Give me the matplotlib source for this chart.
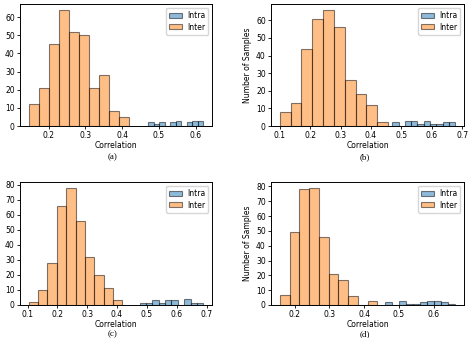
import matplotlib
matplotlib.use("Agg")
import matplotlib.pyplot as plt
from matplotlib.ticker import MultipleLocator
import numpy as np

# bin ranges (start, stop) and counts, 10 bins each
inter_a_range = (0.146, 0.419)
inter_a = [12, 21, 45, 64, 52, 50, 21, 28, 8, 5]
intra_a_range = (0.471, 0.621)
intra_a = [2, 1, 2, 0, 2, 3, 0, 2, 3, 3]

inter_b_range = (0.100, 0.456)
inter_b = [8, 13, 44, 61, 66, 56, 26, 18, 12, 2]
intra_b_range = (0.470, 0.677)
intra_b = [2, 0, 3, 3, 1, 3, 1, 1, 2, 2]

inter_c_range = (0.104, 0.418)
inter_c = [2, 10, 28, 66, 78, 56, 32, 20, 11, 3]
intra_c_range = (0.476, 0.689)
intra_c = [1, 1, 3, 1, 3, 3, 0, 4, 1, 1]

inter_d_range = (0.157, 0.438)
inter_d = [7, 49, 78, 79, 46, 21, 17, 6, 0, 3]
intra_d_range = (0.459, 0.662)
intra_d = [2, 0, 3, 1, 1, 2, 3, 3, 2, 1]

captions = ["(a)", "(b)", "(c)", "(d)"]
panels = [
    (inter_a_range, inter_a, intra_a_range, intra_a),
    (inter_b_range, inter_b, intra_b_range, intra_b),
    (inter_c_range, inter_c, intra_c_range, intra_c),
    (inter_d_range, inter_d, intra_d_range, intra_d),
]

W, H = 470, 338
fig = plt.figure(figsize=(W / 100, H / 100), dpi=100)

# axes boxes in pixels: left, top, right, bottom
boxes = [(20, 4, 212, 126), (271, 4, 464, 126),
         (20, 182, 212, 305), (271, 182, 464, 305)]
cap_pos = [(113, 157), (365, 157), (113, 334), (365, 334)]


def draw_hist(ax, rng, counts, color, label):
    edges = np.linspace(rng[0], rng[1], len(counts) + 1)
    centers = (edges[:-1] + edges[1:]) / 2
    ax.hist(centers, bins=edges, weights=counts, color=color, alpha=0.5,
            edgecolor="black", linewidth=0.8, label=label)


fs = 5.5
for i, (inter_r, inter, intra_r, intra) in enumerate(panels):
    l, t, r, b = boxes[i]
    ax = fig.add_axes([l / W, 1 - b / H, (r - l) / W, (b - t) / H])
    draw_hist(ax, intra_r, intra, "tab:blue", "Intra")
    draw_hist(ax, inter_r, inter, "tab:orange", "Inter")
    ax.yaxis.set_major_locator(MultipleLocator(10))
    ax.set_xlabel("Correlation", fontsize=fs, labelpad=0.8)
    # left-hand panels have this label clipped by the figure edge, as in the source
    ax.set_ylabel("Number of Samples", fontsize=fs)
    ax.yaxis.set_label_coords(-0.098, 0.5)
    ax.tick_params(labelsize=fs, length=2.5, width=0.6, pad=1.2)
    for s in ax.spines.values():
        s.set_linewidth(0.7)
    ax.legend(loc="upper right", fontsize=fs, handlelength=1.7,
              handleheight=0.6, borderpad=0.4, labelspacing=0.35,
              handletextpad=0.6, borderaxespad=0.5)
    cx, cy = cap_pos[i]
    fig.text(cx / W, 1 - cy / H, captions[i], ha="center", va="center",
             fontsize=6.5, family="Liberation Serif")

fig.savefig("out.png", dpi=100)
